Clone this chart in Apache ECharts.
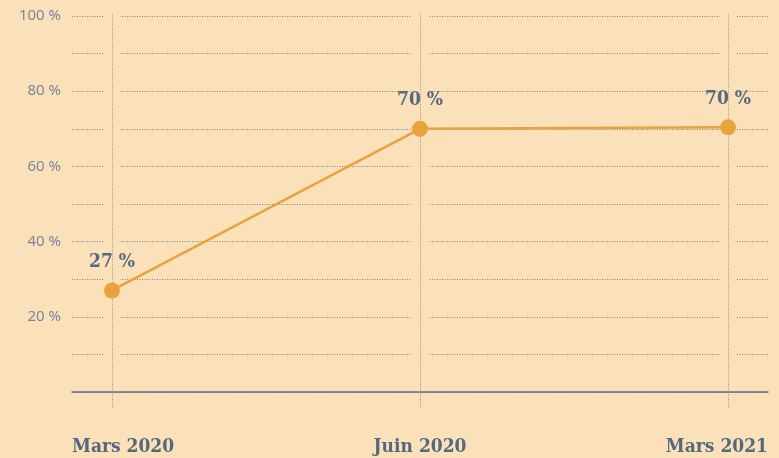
<!DOCTYPE html>
<html>
<head>
<meta charset="utf-8">
<script src="https://cdn.jsdelivr.net/npm/echarts@6/dist/echarts.min.js"></script>
<style>
  html, body { margin: 0; padding: 0; background: #FBE1BA; }
  #chart { width: 779px; height: 458px; }
</style>
</head>
<body>
<div id="chart"></div>
<script>
// chart data
const categories = ['Mars 2020', 'Juin 2020', 'Mars 2021']
const shares = [27, 70, 70.4]
const yLabelValues = [20, 40, 60, 80, 100]

const BG = '#FBE1BA'
const INK = '#56687F'
const serif = "'DejaVu Serif Condensed', 'DejaVu Serif', serif"

const chart = echarts.init(document.getElementById('chart'))

// draws the dotted column line (with a gap in the grid) and the category label
function renderColumn(params, api) {
  const i = api.value(0)
  const top = api.coord([i, 100.5])
  const bottom = api.coord([i, -4.3])
  const maskBottom = api.coord([i, 2])
  const cs = params.coordSys
  const last = categories.length - 1
  let tx = top[0], align = 'center'
  if (i === 0) { tx = cs.x; align = 'left' }
  if (i === last) { tx = cs.x + cs.width; align = 'right' }
  return {
    type: 'group',
    children: [
      {
        type: 'rect',
        shape: { x: top[0] - 8, y: top[1], width: 16, height: maskBottom[1] - top[1] },
        style: { fill: BG }
      },
      {
        type: 'line',
        shape: { x1: top[0] + 0.5, y1: top[1], x2: bottom[0] + 0.5, y2: bottom[1] },
        style: { stroke: '#8F8D89', lineWidth: 1, lineDash: [1, 1.5] }
      },
      {
        type: 'text',
        x: tx,
        y: cs.y + cs.height + 55,
        style: {
          text: categories[i],
          align: align,
          verticalAlign: 'middle',
          fill: INK,
          font: 'bold 19px ' + serif
        }
      }
    ]
  }
}

chart.setOption({
  backgroundColor: BG,
  animation: false,
  grid: { left: 72, right: 11, top: 16, bottom: 66 },
  xAxis: {
    type: 'value',
    min: -40 / 308,
    max: 2 + 40 / 308,
    axisLine: { show: true, onZero: true, lineStyle: { color: '#5E6F86', width: 1.5 } },
    axisTick: { show: false },
    axisLabel: { show: false },
    splitLine: { show: false }
  },
  yAxis: {
    type: 'value',
    min: 0,
    max: 100,
    interval: 10,
    axisLine: { show: false },
    axisTick: { show: false },
    axisLabel: {
      margin: 11,
      color: '#7A879B',
      fontFamily: "'Noto Sans', sans-serif",
      fontSize: 15,
      formatter: v => yLabelValues.includes(v) ? v + ' %' : ''
    },
    splitLine: {
      show: true,
      lineStyle: { color: '#85827D', type: [1, 1.5], width: 1 }
    }
  },
  series: [
    {
      type: 'custom',
      z: 1,
      silent: true,
      clip: false,
      renderItem: renderColumn,
      data: categories.map((c, i) => [i])
    },
    {
      type: 'line',
      z: 3,
      data: shares.map((v, i) => [i, v]),
      symbol: 'circle',
      symbolSize: 16,
      lineStyle: { color: '#E9A33C', width: 2.5 },
      itemStyle: { color: '#E9A33C' },
      label: {
        show: true,
        position: 'top',
        distance: 11,
        color: INK,
        fontFamily: serif,
        fontWeight: 'bold',
        fontSize: 19,
        formatter: p => Math.round(p.value[1]) + ' %'
      }
    }
  ]
})
</script>
</body>
</html>
